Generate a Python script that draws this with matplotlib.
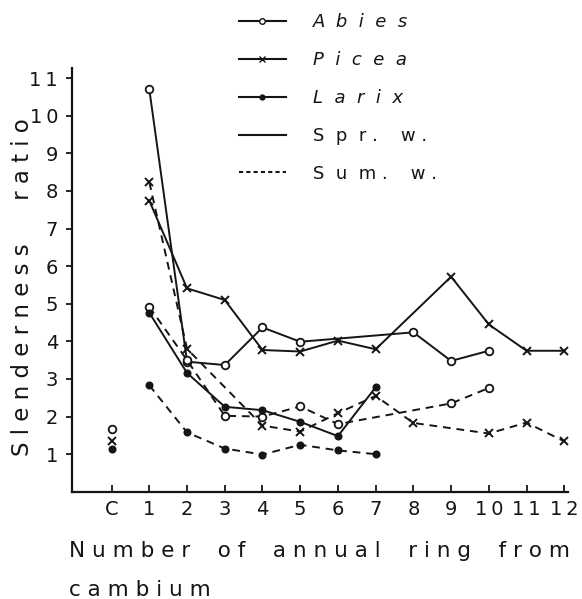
import numpy as np
import matplotlib.pyplot as plt
from matplotlib.lines import Line2D

# x positions: 0 = C (cambium), 1..12 = annual ring number
tick_pos = list(range(13))
tick_lab = ['C', '1', '2', '3', '4', '5', '6', '7', '8', '9',
            '1\u20090', '1\u20091', '1\u20092']
ytick_lab = ['1', '2', '3', '4', '5', '6', '7', '8', '9', '1\u20090', '1\u20091']

abies_spr_x = [1, 2, 3, 4, 5, 8, 9, 10]
abies_spr_y = [10.7, 3.46, 3.37, 4.37, 3.99, 4.24, 3.48, 3.75]
abies_sum_x = [1, 2, 3, 4, 5, 6, 9, 10]
abies_sum_y = [4.92, 3.50, 2.02, 2.00, 2.27, 1.80, 2.35, 2.76]

picea_spr_x = [1, 2, 3, 4, 5, 6, 7, 9, 10, 11, 12]
picea_spr_y = [7.74, 5.41, 5.10, 3.77, 3.73, 4.02, 3.79, 5.72, 4.45, 3.75, 3.75]
picea_sum_x = [1, 2, 4, 5, 6, 7, 8, 10, 11, 12]
picea_sum_y = [8.23, 3.80, 1.76, 1.60, 2.09, 2.55, 1.83, 1.55, 1.84, 1.34]

larix_spr_x = [1, 2, 3, 4, 5, 6, 7]
larix_spr_y = [4.76, 3.16, 2.26, 2.17, 1.86, 1.48, 2.78]
larix_sum_x = [1, 2, 3, 4, 5, 6, 7]
larix_sum_y = [2.83, 1.58, 1.15, 0.99, 1.25, 1.10, 1.00]

# cambium values (no line)
camb_y = [1.68, 1.36, 1.14]

ink = '#151515'
dash = (0, (4, 3))

fig = plt.figure(figsize=(5.82, 5.99), dpi=100)
ax = fig.add_axes([0.1237, 0.179, 0.976 - 0.1237, 0.8865 - 0.179])

kw_o = dict(marker='o', ms=5.5, mfc='white', mec=ink, mew=1.3)
kw_x = dict(marker='x', ms=6, mec=ink, mew=1.4)
kw_d = dict(marker='o', ms=4.8, mfc=ink, mec=ink)

ax.plot(abies_spr_x, abies_spr_y, '-', color=ink, lw=1.4, **kw_o)
ax.plot(abies_sum_x, abies_sum_y, color=ink, lw=1.4, ls=dash, **kw_o)
ax.plot(picea_spr_x, picea_spr_y, '-', color=ink, lw=1.4, **kw_x)
ax.plot(picea_sum_x, picea_sum_y, color=ink, lw=1.4, ls=dash, **kw_x)
ax.plot(larix_spr_x, larix_spr_y, '-', color=ink, lw=1.4, **kw_d)
ax.plot(larix_sum_x, larix_sum_y, color=ink, lw=1.4, ls=dash, **kw_d)

ax.plot([0], [camb_y[0]], ls='none', **kw_o)
ax.plot([0], [camb_y[1]], ls='none', **kw_x)
ax.plot([0], [camb_y[2]], ls='none', **kw_d)

ax.set_xlim(-1.05, 12.1)
ax.set_ylim(0, 11.27)
ax.set_xticks(tick_pos)
ax.set_xticklabels(tick_lab)
ax.set_yticks(range(1, 12))
ax.set_yticklabels(ytick_lab)
for s in ['top', 'right']:
    ax.spines[s].set_visible(False)
for s in ['left', 'bottom']:
    ax.spines[s].set_linewidth(1.6)
    ax.spines[s].set_color(ink)
ax.tick_params(axis='x', direction='in', length=5, width=1.3, pad=6,
               labelsize=14, colors=ink)
ax.tick_params(axis='y', direction='out', length=4, width=1.3, pad=6,
               labelsize=14, colors=ink)

fig.text(0.038, 0.52, 'S l e n d e r n e s s      r a t i o', rotation=90,
         ha='center', va='center', fontsize=16.5, color=ink)
fig.text(0.118, 0.080, 'N u m b e r    o f    a n n u a l    r i n g    f r o m',
         ha='left', va='center', fontsize=15.5, color=ink)
fig.text(0.118, 0.015, 'c a m b i u m', ha='left', va='center',
         fontsize=15.5, color=ink)

handles = [
    Line2D([], [], color=ink, lw=1.5, marker='o', ms=4, mfc='white', mec=ink),
    Line2D([], [], color=ink, lw=1.5, marker='x', ms=4, mec=ink),
    Line2D([], [], color=ink, lw=1.5, marker='o', ms=3.5, mfc=ink, mec=ink),
    Line2D([], [], color=ink, lw=1.5),
    Line2D([], [], color=ink, lw=1.5, ls=(0, (2, 1.5))),
]
labels = ['A  b  i  e  s', 'P  i  c  e  a', 'L  a  r  i  x',
          'S  p  r .    w .', 'S  u  m .    w .']
leg = fig.legend(handles, labels, loc='upper left', bbox_to_anchor=(0.382, 1.005),
                 frameon=False, fontsize=13, handlelength=2.6, handletextpad=1.5,
                 labelspacing=1.1, numpoints=1)
for i, t in enumerate(leg.get_texts()):
    t.set_color(ink)
    if i < 3:
        t.set_style('italic')

fig.savefig('out.png', dpi=100, facecolor='white')
